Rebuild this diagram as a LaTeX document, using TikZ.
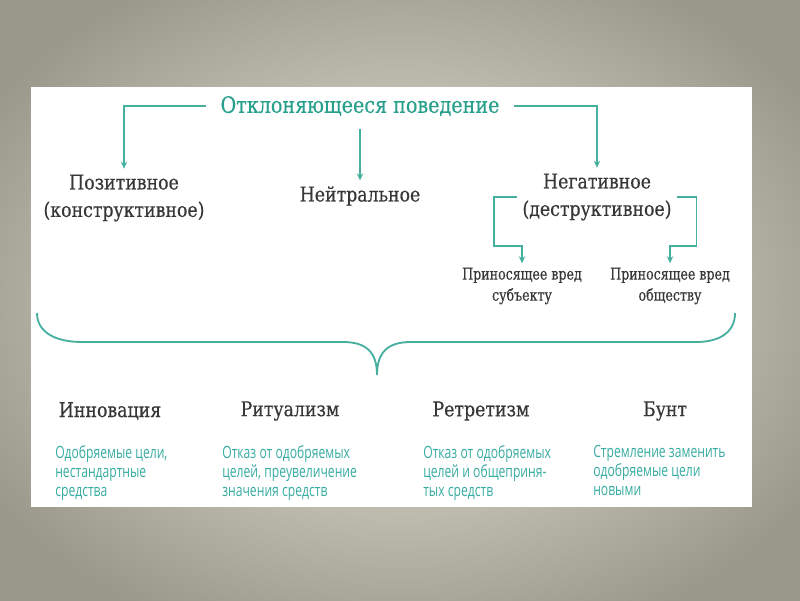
\documentclass[tikz,border=0pt]{standalone}
\usepackage{fontspec}
\setmainfont{DejaVu Serif}[FakeStretch=0.85, FakeBold=0.35]
\newfontfamily\narrowserif{DejaVu Serif}[FakeStretch=0.78, FakeBold=0.3]
\newfontfamily\descfont{Open Sans}[FakeStretch=0.72]
\usetikzlibrary{arrows.meta,positioning,calc}
\definecolor{devTeal}{RGB}{40,160,140}
\definecolor{lineTeal}{RGB}{70,175,158}
\definecolor{descTeal}{RGB}{55,172,162}
\definecolor{inkGray}{RGB}{55,55,55}
\definecolor{bgLight}{RGB}{238,237,226}
\definecolor{bgDark}{RGB}{155,153,139}
\tikzset{
  titletext/.style={text=devTeal, font=\fontsize{16}{19}\selectfont, inner xsep=10pt, inner ysep=7pt},
  kindtext/.style={text=inkGray, align=center, font=\fontsize{14.5}{19.5}\selectfont, inner sep=4pt},
  harmtext/.style={text=inkGray, align=center, font=\narrowserif\fontsize{11.5}{15}\selectfont, inner sep=3pt},
  typetext/.style={text=inkGray, align=center, font=\fontsize{14.5}{17}\selectfont, inner sep=2pt},
  desctext/.style={text=descTeal, align=left, anchor=north west, font=\descfont\fontsize{12}{13.6}\selectfont, inner sep=0pt},
  link/.style={-{Stealth[length=5pt,width=4.5pt]}, line width=1.3pt, draw=lineTeal},
  bracecurve/.style={line width=1.3pt, draw=lineTeal}
}
\begin{document}
\begin{tikzpicture}[x=0.025cm, y=-0.025cm]
\useasboundingbox (0,0) rectangle (800,600);
\shade[inner color=bgLight, outer color=bgDark] (-80,-60) rectangle (880,660);
\fill[white] (31,87) rectangle (752,507);
\node[titletext] (dev) at (360,106) {Отклоняющееся поведение};
\node[kindtext] (pos) at (124,198) {Позитивное\\(конструктивное)};
\node[kindtext] (neu) at (360,196) {Нейтральное};
\node[kindtext] (neg) at (597,197) {Негативное\\(деструктивное)};
\node[harmtext] (subj) at (522,286) {Приносящее вред\\субъекту};
\node[harmtext] (soc) at (670,286) {Приносящее вред\\обществу};
\draw[link] (dev.west) -| (pos.north);
\draw[link] ([yshift=-2pt]dev.south) -- (neu.north);
\draw[link] (dev.east) -| (neg.north);
\draw[link] (neg.west) -| ++(-23,49) -| (subj.north);
\draw[link] (neg.east) -| ++(19,49) -| (soc.north);
\coordinate (braceL) at (37,313);
\coordinate (braceTip) at (377,375);
\coordinate (braceR) at (735,313);
\draw[bracecurve] (braceL) .. controls (37,332) and (55,342) .. (82,342) -- (343,342)
  .. controls (366,342) and (377,352) .. (braceTip)
  .. controls (377,352) and (388,342) .. (411,342) -- (696,342)
  .. controls (720,342) and (735,332) .. (braceR);
\node[typetext] (innov) at (110,411) {Инновация};
\node[typetext] (ritual) at (290,411) {Ритуализм};
\node[typetext] (retreat) at (481,411) {Ретретизм};
\node[typetext] (riot) at (665,411) {Бунт};
\node[desctext] (innovD) at (55,445) {Одобряемые цели,\\нестандартные\\средства};
\node[desctext] (ritualD) at (222,445) {Отказ от одобряемых\\целей, преувеличение\\значения средств};
\node[desctext] (retreatD) at (423,445) {Отказ от одобряемых\\целей и общеприня-\\тых средств};
\node[desctext] (riotD) at (593,445) {Стремление заменить\\одобряемые цели\\новыми};
\end{tikzpicture}
\end{document}
